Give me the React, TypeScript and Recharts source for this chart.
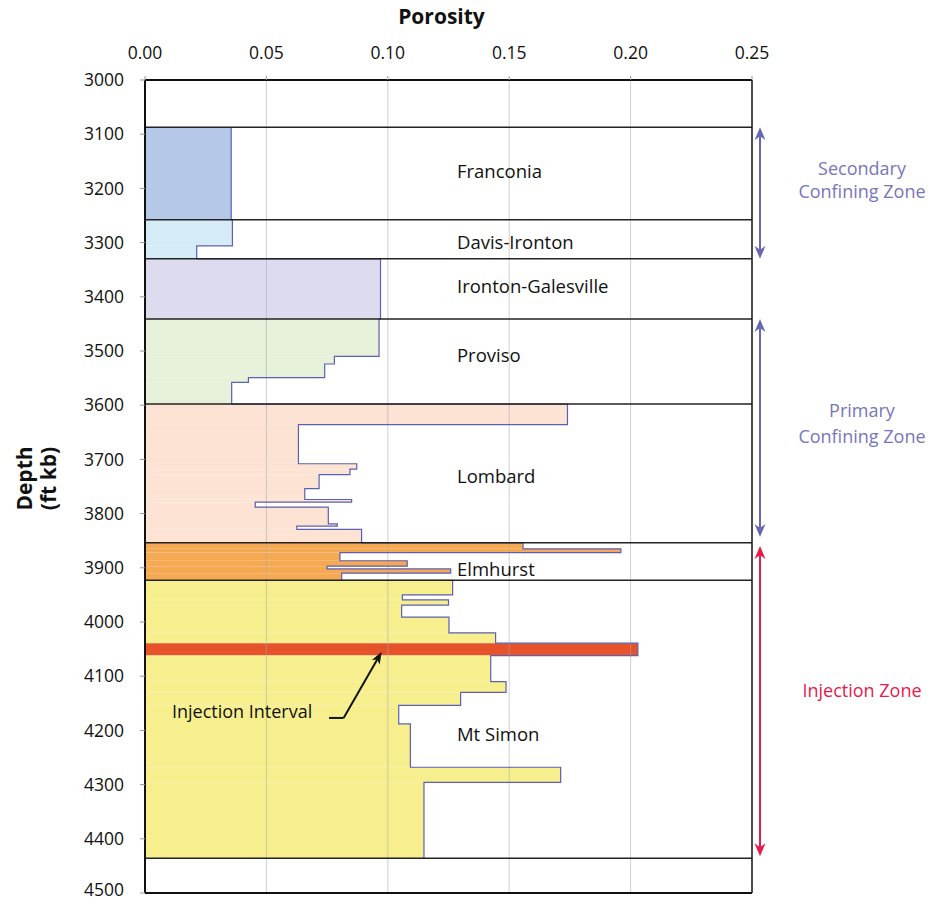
import React from 'react';
import {
  ScatterChart,
  Scatter,
  XAxis,
  YAxis,
  ReferenceArea,
  ReferenceLine,
  ReferenceDot,
} from 'recharts';

// ---------- data ----------
const formationNames = ['Franconia', 'Davis-Ironton', 'Ironton-Galesville', 'Proviso', 'Lombard', 'Elmhurst', 'Mt Simon'];
const formationTops = [3087, 3258, 3330, 3441, 3598, 3854, 3923];
const formationBase = 4436;
const formationColors = ['#b5c8e7', '#d5ecf7', '#dcdcee', '#e7f0d8', '#fce3d3', '#f6a953', '#f7ef8d'];
const formationLabelDepths = [3181, 3312, 3393, 3520, 3744, 3915, 4219];
const formationLabelPorosity = 0.1285;

const stepTops = [
  3087, 3258, 3306, 3330, 3441, 3510, 3524, 3549, 3558,
  3598, 3636, 3708, 3718, 3728, 3754, 3774, 3779, 3788, 3819, 3823, 3829,
  3854, 3865, 3872, 3887, 3897, 3902, 3910,
  3923, 3950, 3959, 3969, 3991, 4020, 4039, 4062, 4110, 4130, 4154, 4188, 4268, 4296,
];
const stepPorosity = [
  0.0355, 0.036, 0.0213, 0.097, 0.0964, 0.078, 0.074, 0.0426, 0.0357,
  0.174, 0.0632, 0.0872, 0.0844, 0.0717, 0.0658, 0.0851, 0.0454, 0.0755, 0.0792, 0.0625, 0.0892,
  0.1557, 0.196, 0.0803, 0.108, 0.075, 0.1259, 0.081,
  0.1267, 0.106, 0.125, 0.1057, 0.1252, 0.1444, 0.203, 0.1424, 0.1487, 0.13, 0.1045, 0.1093, 0.1712, 0.1149,
];
const injectionTop = 4039;
const injectionColor = '#e6532a';
const injectionLabel = 'Injection Interval';
const injectionLabelPos = { por: 0.0111, depth: 4178 };
const injectionLeader = [
  { por: 0.0758, depth: 4177 },
  { por: 0.0818, depth: 4177 },
  { por: 0.0975, depth: 4055 },
];

const zoneLines = [['Secondary', 'Confining Zone'], ['Primary', 'Confining Zone'], ['Injection Zone']];
const zoneTops = [3087, 3441, 3860];
const zoneBottoms = [3330, 3843, 4432];
const zoneColors = ['#6b66b3', '#6b66b3', '#e8194b'];
const zoneTextColors = ['#7676bb', '#7676bb', '#e8194b'];
const zoneLabelDepths = [[3175, 3218], [3622, 3670], [4138]];
const zoneArrowPorosity = 0.2533;
const zoneLabelPorosity = 0.2953;

const porosityTicks = [0, 0.05, 0.1, 0.15, 0.2, 0.25];
const gridPorosity = [0.05, 0.1, 0.15, 0.2];
const depthTicks = [3000, 3100, 3200, 3300, 3400, 3500, 3600, 3700, 3800, 3900, 4000, 4100, 4200, 4300, 4400, 4500];

// ---------- derived ----------
const segments = stepTops.map((top, i) => {
  const bottom = i + 1 < stepTops.length ? stepTops[i + 1] : formationBase;
  let f = 0;
  formationTops.forEach((t, k) => {
    if (top >= t) f = k;
  });
  return {
    top,
    bottom,
    por: stepPorosity[i],
    color: top === injectionTop ? injectionColor : formationColors[f],
  };
});
const outline: { por: number; depth: number }[] = [];
segments.forEach((s) => {
  outline.push({ por: s.por, depth: s.top });
  outline.push({ por: s.por, depth: s.bottom });
});

const FONT = "'Open Sans', 'Noto Sans', sans-serif";

const EmptyShape = () => <g />;

const makeZoneArrow = (color: string) => (p: any) => {
  const x = p.x1;
  const top = Math.min(p.y1, p.y2);
  const bot = Math.max(p.y1, p.y2);
  const hl = 13;
  const hw = 5.5;
  return (
    <g>
      <line x1={x} y1={top + 6} x2={x} y2={bot - 6} stroke={color} strokeWidth={2} />
      <polygon points={`${x},${top} ${x - hw},${top + hl} ${x},${top + hl - 4} ${x + hw},${top + hl}`} fill={color} />
      <polygon points={`${x},${bot} ${x - hw},${bot - hl} ${x},${bot - hl + 4} ${x + hw},${bot - hl}`} fill={color} />
    </g>
  );
};

const LeaderHead = (p: any) => {
  const { x1, y1, x2, y2 } = p;
  const dx = x2 - x1;
  const dy = y2 - y1;
  const len = Math.sqrt(dx * dx + dy * dy) || 1;
  const ux = dx / len;
  const uy = dy / len;
  const hl = 12;
  const hw = 4.5;
  const bx = x2 - ux * hl;
  const by = y2 - uy * hl;
  return (
    <g>
      <line x1={x1} y1={y1} x2={bx + ux * 3} y2={by + uy * 3} stroke="#111" strokeWidth={2} />
      <polygon
        points={`${x2},${y2} ${bx - uy * hw},${by + ux * hw} ${bx + ux * 3},${by + uy * 3} ${bx + uy * hw},${by - ux * hw}`}
        fill="#111"
      />
    </g>
  );
};

const makeTextShape = (text: string, size: number, color: string, anchor: string) => (p: any) => (
  <text x={p.cx} y={p.cy} fontFamily={FONT} fontSize={size} fill={color} textAnchor={anchor}>
    {text}
  </text>
);

const PorosityTitle = (p: any) => {
  const vb = p.viewBox || { x: 145, y: 50, width: 607, height: 30 };
  return (
    <text x={vb.x + vb.width / 2 - 7} y={vb.y - 26} fontFamily={FONT} fontWeight="bold" fontSize={21} fill="#111" textAnchor="middle">
      Porosity
    </text>
  );
};

const DepthTitle = (p: any) => {
  const vb = p.viewBox || { x: 65, y: 80, width: 80, height: 813 };
  const cy = vb.y + vb.height / 2 - 8;
  return (
    <g>
      <text x={32} y={cy} transform={`rotate(-90 32 ${cy})`} fontFamily={FONT} fontWeight="bold" fontSize={21} fill="#111" textAnchor="middle">
        Depth
      </text>
      <text x={56} y={cy} transform={`rotate(-90 56 ${cy})`} fontFamily={FONT} fontWeight="bold" fontSize={21} fill="#111" textAnchor="middle">
        (ft kb)
      </text>
    </g>
  );
};

export default function App() {
  return (
    <div style={{ position: 'absolute', left: 0, top: 0, background: '#fff' }}>
      <ScatterChart width={934} height={900} margin={{ top: 50, right: 182, bottom: 7, left: 0 }}>
        <XAxis
          type="number"
          dataKey="por"
          orientation="top"
          domain={[0, 0.25]}
          ticks={porosityTicks}
          tickFormatter={(v: number) => v.toFixed(2)}
          height={30}
          tickSize={4}
          tickMargin={17}
          axisLine={{ stroke: '#111', strokeWidth: 2 }}
          tickLine={{ stroke: '#999' }}
          tick={{ fill: '#111', fontSize: 17.5, fontFamily: FONT }}
          allowDataOverflow
          label={{ content: PorosityTitle }}
        />
        <YAxis
          type="number"
          dataKey="depth"
          reversed
          domain={[3000, 4500]}
          ticks={depthTicks}
          width={145}
          tickSize={5}
          tickMargin={16}
          axisLine={{ stroke: '#111', strokeWidth: 2 }}
          tickLine={{ stroke: '#999' }}
          tick={{ fill: '#111', fontSize: 17.5, fontFamily: FONT }}
          allowDataOverflow
          label={{ content: DepthTitle }}
        />

        {segments.map((s, i) => (
          <ReferenceArea
            key={`seg-${i}`}
            x1={0}
            x2={s.por}
            y1={s.top}
            y2={s.bottom}
            fill={s.color}
            fillOpacity={1}
            stroke="none"
            ifOverflow="visible"
            zIndex={100}
          />
        ))}

        {gridPorosity.map((g) => (
          <ReferenceLine key={`grid-${g}`} x={g} stroke="#a8a8a8" strokeOpacity={0.55} strokeWidth={1} zIndex={150} />
        ))}

        <Scatter
          data={outline}
          line={{ stroke: '#5b5fb5', strokeWidth: 1.2 }}
          shape={EmptyShape}
          isAnimationActive={false}
          zIndex={200}
        />

        {formationTops.map((t) => (
          <ReferenceLine key={`ft-${t}`} y={t} stroke="#222" strokeWidth={1.5} zIndex={250} />
        ))}
        <ReferenceLine y={formationBase} stroke="#222" strokeWidth={1.5} zIndex={250} />
        <ReferenceLine x={0.25} stroke="#111" strokeWidth={1.5} zIndex={250} />
        <ReferenceLine y={4500} stroke="#111" strokeWidth={2} zIndex={250} />

        {formationNames.map((n, i) => (
          <ReferenceDot
            key={`fl-${n}`}
            x={formationLabelPorosity}
            y={formationLabelDepths[i]}
            r={0}
            ifOverflow="visible"
            shape={makeTextShape(n, 18.5, '#111', 'start')}
            zIndex={300}
          />
        ))}

        <ReferenceDot
          x={injectionLabelPos.por}
          y={injectionLabelPos.depth}
          r={0}
          ifOverflow="visible"
          shape={makeTextShape(injectionLabel, 18, '#111', 'start')}
          zIndex={300}
        />
        <ReferenceLine
          segment={[
            { x: injectionLeader[0].por, y: injectionLeader[0].depth },
            { x: injectionLeader[1].por, y: injectionLeader[1].depth },
          ]}
          stroke="#111"
          strokeWidth={2}
          ifOverflow="visible"
          zIndex={300}
        />
        <ReferenceLine
          segment={[
            { x: injectionLeader[1].por, y: injectionLeader[1].depth },
            { x: injectionLeader[2].por, y: injectionLeader[2].depth },
          ]}
          ifOverflow="visible"
          shape={LeaderHead}
          zIndex={300}
        />

        {zoneTops.map((t, i) => (
          <ReferenceLine
            key={`za-${i}`}
            segment={[
              { x: zoneArrowPorosity, y: t },
              { x: zoneArrowPorosity, y: zoneBottoms[i] },
            ]}
            ifOverflow="visible"
            shape={makeZoneArrow(zoneColors[i])}
            zIndex={300}
          />
        ))}
        {zoneLines.map((lines, i) =>
          lines.map((ln, j) => (
            <ReferenceDot
              key={`zl-${i}-${j}`}
              x={zoneLabelPorosity}
              y={zoneLabelDepths[i][j]}
              r={0}
              ifOverflow="visible"
              shape={makeTextShape(ln, 18, zoneTextColors[i], 'middle')}
              zIndex={300}
            />
          ))
        )}
      </ScatterChart>
    </div>
  );
}
